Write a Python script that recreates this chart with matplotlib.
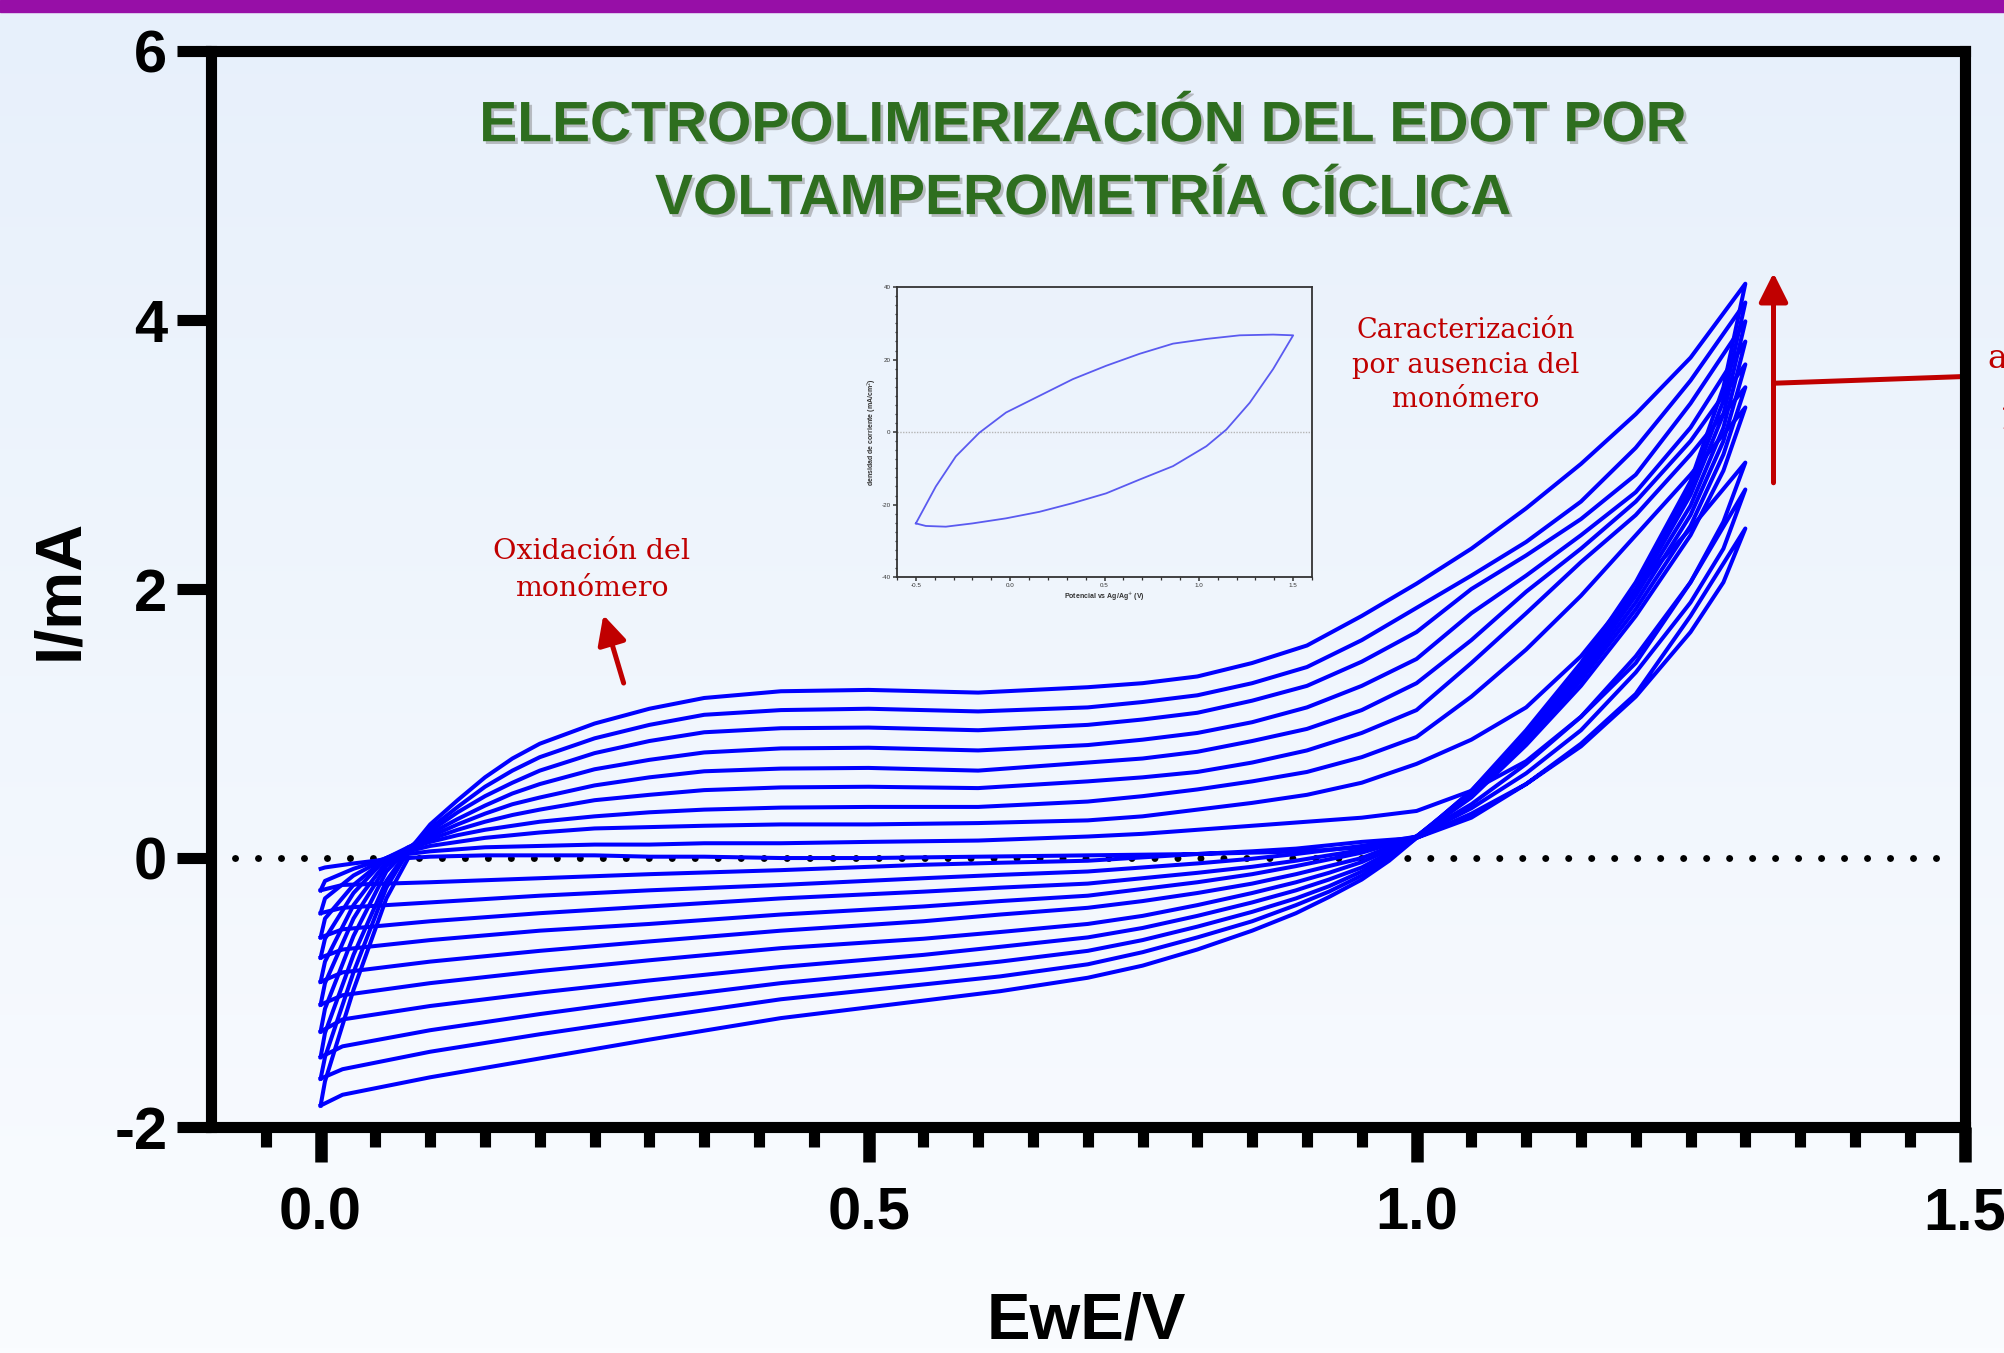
import numpy as np
import matplotlib
matplotlib.use('Agg')
import matplotlib.pyplot as plt
import matplotlib.patheffects as pe
from matplotlib.colors import LinearSegmentedColormap
from matplotlib.patches import Rectangle
from matplotlib.ticker import AutoMinorLocator

plt.rcParams['font.family'] = ['Liberation Sans', 'DejaVu Sans']
plt.rcParams['axes.unicode_minus'] = False

# ---- main voltammogram, potential (V) / current (mA) ----
E_fwd = [0.0, 0.004, 0.03, 0.06, 0.08, 0.1, 0.125, 0.15, 0.175, 0.2, 0.25, 0.3, 0.35,
         0.42, 0.5, 0.6, 0.7, 0.75, 0.8, 0.85, 0.9, 0.95, 1.0, 1.05, 1.1, 1.15, 1.2,
         1.25, 1.3]
I_fwd = [
    [-0.08, -0.07, -0.04, -0.01, 0.0, 0.01, 0.015, 0.02, 0.02, 0.02, 0.02, 0.01, 0.01,
     0.0, 0.0, 0.01, 0.02, 0.025, 0.03, 0.04, 0.05, 0.08, 0.15, 0.3, 0.55, 0.85, 1.22,
     1.8, 2.45],
    [-0.24, -0.17, -0.08, 0.0, 0.03, 0.05, 0.065, 0.08, 0.085, 0.09, 0.1, 0.1, 0.11,
     0.11, 0.12, 0.13, 0.16, 0.18, 0.21, 0.24, 0.27, 0.3, 0.35, 0.5, 0.72, 1.05, 1.45,
     2.05, 2.74],
    [-0.41, -0.3, -0.13, 0.0, 0.05, 0.09, 0.12, 0.15, 0.17, 0.19, 0.22, 0.23, 0.24,
     0.25, 0.25, 0.26, 0.28, 0.31, 0.36, 0.41, 0.47, 0.56, 0.7, 0.88, 1.12, 1.5, 2.0,
     2.45, 2.94],
    [-0.59, -0.45, -0.2, 0.0, 0.07, 0.12, 0.17, 0.21, 0.24, 0.27, 0.31, 0.34, 0.36,
     0.375, 0.38, 0.38, 0.42, 0.46, 0.51, 0.57, 0.64, 0.75, 0.9, 1.2, 1.55, 1.95, 2.4,
     2.85, 3.35],
    [-0.74, -0.6, -0.26, 0.0, 0.08, 0.14, 0.21, 0.27, 0.32, 0.36, 0.43, 0.47, 0.505,
     0.525, 0.53, 0.52, 0.57, 0.6, 0.64, 0.71, 0.8, 0.93, 1.1, 1.45, 1.82, 2.2, 2.55,
     3.0, 3.5],
    [-0.92, -0.77, -0.35, -0.03, 0.08, 0.16, 0.25, 0.33, 0.4, 0.45, 0.54, 0.6, 0.645,
     0.665, 0.67, 0.65, 0.71, 0.74, 0.79, 0.87, 0.96, 1.1, 1.3, 1.62, 1.98, 2.3, 2.65,
     3.1, 3.67],
    [-1.09, -0.93, -0.45, -0.06, 0.07, 0.18, 0.29, 0.39, 0.48, 0.55, 0.66, 0.73, 0.785,
     0.815, 0.82, 0.8, 0.84, 0.88, 0.93, 1.01, 1.12, 1.28, 1.48, 1.82, 2.1, 2.4, 2.72,
     3.2, 3.84],
    [-1.29, -1.12, -0.58, -0.1, 0.07, 0.2, 0.34, 0.46, 0.56, 0.65, 0.78, 0.87, 0.935,
     0.965, 0.97, 0.95, 0.99, 1.03, 1.08, 1.17, 1.28, 1.46, 1.68, 2.0, 2.25, 2.52, 2.85,
     3.38, 3.99],
    [-1.48, -1.3, -0.72, -0.17, 0.06, 0.22, 0.38, 0.53, 0.65, 0.75, 0.89, 0.99, 1.065,
     1.1, 1.11, 1.09, 1.12, 1.16, 1.21, 1.3, 1.42, 1.62, 1.86, 2.1, 2.35, 2.65, 3.05,
     3.55, 4.13],
    [-1.64, -1.48, -0.85, -0.22, 0.05, 0.25, 0.43, 0.6, 0.74, 0.85, 1.0, 1.11, 1.19,
     1.24, 1.25, 1.23, 1.27, 1.3, 1.35, 1.45, 1.58, 1.8, 2.04, 2.3, 2.6, 2.93, 3.3,
     3.72, 4.27],
]

E_rev = [1.3, 1.28, 1.25, 1.2, 1.15, 1.1, 1.05, 1.0, 0.975, 0.95, 0.92, 0.89, 0.85,
         0.8, 0.75, 0.7, 0.62, 0.55, 0.42, 0.3, 0.2, 0.1, 0.02, 0.0]
I_rev = [
    [2.45, 2.05, 1.68, 1.2, 0.83, 0.55, 0.33, 0.15, 0.135, 0.12, 0.095, 0.07, 0.05,
     0.03, 0.005, -0.02, -0.035, -0.05, -0.09, -0.12, -0.15, -0.18, -0.2, -0.24],
    [2.74, 2.3, 1.9, 1.38, 0.95, 0.63, 0.37, 0.16, 0.125, 0.09, 0.06, 0.03, -0.005,
     -0.04, -0.07, -0.1, -0.125, -0.15, -0.2, -0.24, -0.28, -0.33, -0.37, -0.41],
    [2.94, 2.5, 2.05, 1.5, 1.05, 0.7, 0.4, 0.16, 0.11, 0.06, 0.02, -0.02, -0.065,
     -0.11, -0.15, -0.19, -0.22, -0.25, -0.3, -0.36, -0.41, -0.47, -0.53, -0.59],
    [3.35, 2.88, 2.4, 1.8, 1.28, 0.84, 0.45, 0.16, 0.1, 0.04, -0.01, -0.06, -0.12,
     -0.18, -0.23, -0.28, -0.32, -0.36, -0.42, -0.49, -0.54, -0.61, -0.68, -0.74],
    [3.5, 3.0, 2.47, 1.85, 1.32, 0.86, 0.46, 0.16, 0.08, 0.0, -0.06, -0.12, -0.19,
     -0.26, -0.32, -0.37, -0.42, -0.47, -0.54, -0.62, -0.69, -0.77, -0.85, -0.92],
    [3.67, 3.1, 2.55, 1.9, 1.35, 0.88, 0.47, 0.16, 0.06, -0.03, -0.11, -0.18, -0.26,
     -0.35, -0.43, -0.49, -0.55, -0.6, -0.67, -0.76, -0.84, -0.93, -1.02, -1.09],
    [3.84, 3.2, 2.62, 1.95, 1.38, 0.9, 0.48, 0.16, 0.04, -0.07, -0.16, -0.24, -0.33,
     -0.43, -0.52, -0.59, -0.66, -0.72, -0.81, -0.91, -1.0, -1.1, -1.2, -1.29],
    [3.99, 3.3, 2.7, 1.98, 1.4, 0.92, 0.49, 0.16, 0.02, -0.1, -0.21, -0.3, -0.4,
     -0.51, -0.61, -0.69, -0.77, -0.83, -0.93, -1.05, -1.16, -1.28, -1.4, -1.48],
    [4.13, 3.4, 2.75, 2.0, 1.42, 0.93, 0.5, 0.15, 0.0, -0.13, -0.25, -0.35, -0.47,
     -0.59, -0.7, -0.79, -0.88, -0.94, -1.05, -1.19, -1.31, -1.44, -1.57, -1.64],
    [4.27, 3.5, 2.8, 2.05, 1.45, 0.95, 0.5, 0.15, -0.02, -0.16, -0.29, -0.41, -0.54,
     -0.68, -0.8, -0.89, -0.99, -1.06, -1.19, -1.35, -1.49, -1.63, -1.76, -1.84],
]

# start of the next sweep after the last reverse scan
E_last = [0.0, 0.004, 0.03, 0.06, 0.08]
I_last = [-1.84, -1.66, -0.98, -0.3, 0.0]

x_ticks = [0.0, 0.5, 1.0, 1.5]
x_ticklabels = ['0.0', '0.5', '1.0', '1.5']
y_ticks = [-2, 0, 2, 4, 6]
y_ticklabels = ['-2', '0', '2', '4', '6']

# ---- inset: characterization without monomer ----
E_in_up = [-0.5, -0.394, -0.288, -0.164, -0.022, 0.155, 0.332, 0.509, 0.686, 0.863,
           1.04, 1.217, 1.394, 1.5]
I_in_up = [-25.2, -15.0, -6.7, -0.2, 5.4, 10.0, 14.6, 18.3, 21.6, 24.4, 25.7, 26.7,
           26.9, 26.7]
E_in_down = [1.5, 1.394, 1.27, 1.146, 1.04, 0.863, 0.686, 0.509, 0.332, 0.155, -0.022,
             -0.2, -0.341, -0.447, -0.5]
I_in_down = [26.7, 17.4, 8.1, 0.7, -3.9, -9.4, -13.1, -16.9, -19.6, -22.0, -23.8,
             -25.2, -26.1, -25.9, -25.2]

red = '#C00000'
blue = '#0000FF'

fig = plt.figure(figsize=(20.04, 13.53), dpi=100)

# background gradient + purple band
bg = fig.add_axes([0, 0, 1, 1])
bg.set_zorder(-10)
grad = np.linspace(0, 1, 256).reshape(-1, 1)
bg.imshow(grad, aspect='auto', extent=[0, 1, 0, 1], origin='upper',
          cmap=LinearSegmentedColormap.from_list('bgc', ['#E7F0FB', '#FAFCFF']))
bg.axis('off')
fig.add_artist(Rectangle((0, 1 - 12 / 1353), 1, 12 / 1353, transform=fig.transFigure,
                         color='#970FA7', zorder=5))

ax = fig.add_axes([0.1053, 0.167, 0.875, 0.7953])
ax.set_facecolor('none')
ax.set_xlim(-0.1, 1.5)
ax.set_ylim(-2, 6)

# dotted zero line
ax.plot([-0.078, 1.48], [0, 0], color='black', lw=5, linestyle=(0, (0.01, 3.3)),
        dash_capstyle='round', zorder=1)

for k in range(len(I_fwd)):
    ax.plot(E_fwd + E_rev, I_fwd[k] + I_rev[k], color=blue, lw=2.9,
            solid_joinstyle='round', zorder=3)
ax.plot(E_last, I_last, color=blue, lw=2.9, zorder=3)

for s in ax.spines.values():
    s.set_linewidth(8)
    s.set_capstyle('projecting')

ax.set_xticks(x_ticks)
ax.set_xticklabels(x_ticklabels, fontweight='bold')
ax.set_xticks(np.arange(-0.05, 1.49, 0.05), minor=True)
ax.set_yticks(y_ticks)
ax.set_yticklabels(y_ticklabels, fontweight='bold')
ax.tick_params(axis='x', which='major', length=25, width=9, pad=18, labelsize=43)
ax.tick_params(axis='x', which='minor', length=14.5, width=8)
ax.tick_params(axis='y', which='major', length=24.5, width=8, pad=7, labelsize=43)

ax.text(-0.0861, 0.5, 'I/mA', transform=ax.transAxes, rotation=90, ha='center',
        va='center', fontsize=47, fontweight='bold')
ax.text(0.499, -0.181, 'EwE/V', transform=ax.transAxes, ha='center', va='center',
        fontsize=47, fontweight='bold')

# title
ax.text(0.696, 5.17, 'ELECTROPOLIMERIZACIÓN DEL EDOT POR\nVOLTAMPEROMETRÍA CÍCLICA',
        ha='center', va='center', fontsize=41, fontweight='bold', color='#2E6E1F',
        linespacing=1.45,
        path_effects=[pe.withSimplePatchShadow(offset=(2, -2), shadow_rgbFace='#7a7a7a',
                                               alpha=0.45)])

# annotations
ax.text(0.247, 2.14, 'Oxidación del\nmonómero', ha='center', va='center',
        fontsize=20.5, color=red, family='DejaVu Serif', linespacing=1.5)
ax.annotate('', xy=(0.258, 1.807), xytext=(0.2765, 1.301),
            arrowprops=dict(arrowstyle='-|>,head_length=0.8,head_width=0.4', color=red,
                            lw=3.6, shrinkA=0, shrinkB=0, mutation_scale=22))
ax.text(1.045, 3.665, 'Caracterización\npor ausencia del\nmonómero', ha='center',
        va='center', fontsize=19.5, color=red, family='DejaVu Serif', linespacing=1.35)
ax.annotate('', xy=(1.3257, 4.35), xytext=(1.3257, 2.79),
            arrowprops=dict(arrowstyle='-|>,head_length=0.8,head_width=0.4', color=red,
                            lw=3.6, shrinkA=0, shrinkB=0, mutation_scale=22))
ax.plot([1.3257, 1.5], [3.53, 3.58], color=red, lw=3.6, clip_on=False,
        solid_capstyle='butt', zorder=2)
fig.text(1987 / 2004, 1 - 359 / 1353, 'a', ha='left', va='center', fontsize=24,
         color=red, family='DejaVu Serif')
fig.text(1999 / 2004, 1 - 420 / 1353, '1', ha='left', va='center', fontsize=24,
         color=red, family='DejaVu Serif')

# inset
axin = fig.add_axes([0.4476, 0.5735, 0.2071, 0.2143])
axin.set_facecolor('none')
axin.axhline(0, color='#b5b5b5', lw=1, linestyle=(0, (1, 1)))
axin.plot(E_in_up + E_in_down, I_in_up + I_in_down, color='#5A5AF0', lw=1.3)
axin.set_xlim(-0.6, 1.6)
axin.set_ylim(-40, 40)
axin.set_xticks([-0.5, 0.0, 0.5, 1.0, 1.5])
axin.set_xticklabels(['-0.5', '0.0', '0.5', '1.0', '1.5'])
axin.set_yticks([-40, -20, 0, 20, 40])
axin.xaxis.set_minor_locator(AutoMinorLocator(5))
axin.yaxis.set_minor_locator(AutoMinorLocator(8))
for s in axin.spines.values():
    s.set_linewidth(1.3)
    s.set_color('#333333')
axin.tick_params(which='major', length=3, width=1.1, labelsize=4.5, pad=1.5, colors='#333333')
axin.tick_params(which='minor', length=1.8, width=0.9, colors='#333333')
axin.set_xlabel('Potencial vs Ag/Ag$^{+}$ (V)', fontsize=5, fontweight='bold',
                labelpad=2, color='#333333')
axin.set_ylabel('densidad de corriente (mA/cm$^{2}$)', fontsize=5, fontweight='bold',
                labelpad=2, color='#333333')

fig.savefig('out.png', dpi=100)
